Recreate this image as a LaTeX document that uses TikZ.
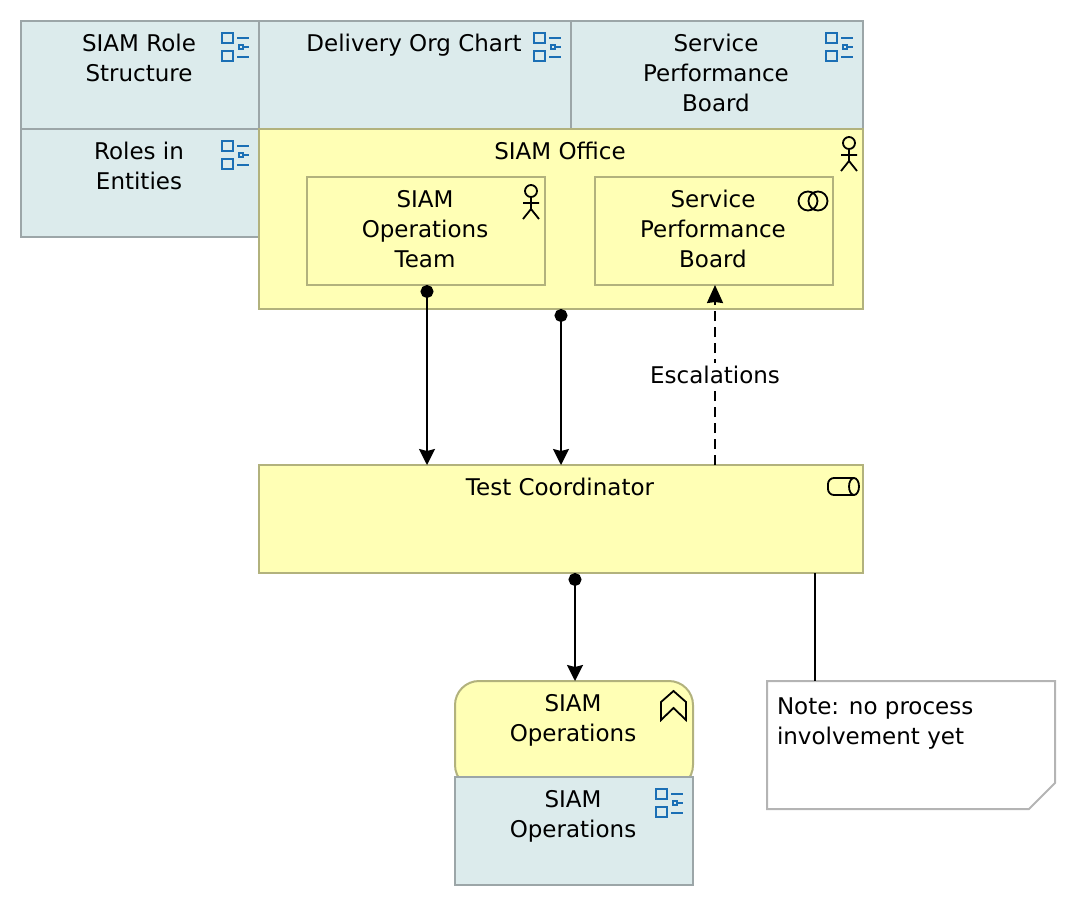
\documentclass[tikz,border=0pt]{standalone}
\usepackage{fontspec}
\setmainfont{DejaVu Sans}
\usetikzlibrary{arrows.meta}

\definecolor{datafill}{HTML}{DCEBEC}
\definecolor{dataline}{HTML}{9CA6A8}
\definecolor{mainfill}{HTML}{FFFFB5}
\definecolor{mainline}{HTML}{B2B27D}
\definecolor{noteline}{HTML}{B4B4B4}
\definecolor{iconblue}{HTML}{1B6FB5}

\tikzset{
    listicon/.pic = {
        \draw[iconblue, line width=2pt] (-37,12) rectangle (-26,22) (-37,30) rectangle (-26,40);
        \draw[iconblue, line width=2pt] (-22,17) -- (-10,17) (-15,26) -- (-10,26) (-22,36) -- (-10,36);
        \draw[iconblue, line width=1.5pt] (-20,24) rectangle (-16,28);
    },
    actoricon/.pic = {
        \draw[line width=1.8pt] (-14,14) circle (6pt);
        \draw[line width=1.8pt] (-14,20) -- (-14,32) (-22,26) -- (-6,26) (-22,42) -- (-14,32) -- (-6,42);
    },
    collabicon/.pic = {
        \draw[line width=1.8pt] (-25,24) circle (9.5pt) (-15,24) circle (9.5pt);
    },
    serviceicon/.pic = {
        \draw[line width=1.8pt, rounded corners=6pt] (-9,13) -- (-35,13) -- (-35,30) -- (-9,30);
        \draw[line width=1.8pt] (-9,21.5) ellipse (5pt and 8.5pt);
    },
    chevronicon/.pic = {
        \draw[line width=1.8pt] (-32,21) -- (-19.5,10) -- (-7,21) -- (-7,39) -- (-19.5,27) -- (-32,39) -- cycle;
    }
}

\begin{document}
\begin{tikzpicture}[x=1pt, y=-1pt, line width=2pt,
    font=\fontsize{23}{30}\selectfont,
    main/.style = {draw=mainline, fill=mainfill, rectangle, inner sep=0pt, outer sep=0pt},
    data/.style = {draw=dataline, fill=datafill, rectangle, inner sep=0pt, outer sep=0pt},
    boxtext/.style = {anchor=north, xshift=-1pt, yshift=-8.5pt, inner sep=0pt},
    serving/.style = {{Circle[length=13pt]}-{Stealth[length=16pt, width=16pt, inset=2pt]}},
    flow/.style = {dash pattern=on 10pt off 6pt, -{Stealth[length=18pt, width=16pt, inset=1pt]}}]
    \useasboundingbox (0,0) rectangle (1076,906);

    \node[data, minimum width=238pt, minimum height=108pt] (1) at (140,75) {};
    \node[data, minimum width=312pt, minimum height=108pt] (2) [right of=1, node distance=275pt] {};
    \node[data, minimum width=292pt, minimum height=108pt] (3) [right of=2, node distance=302pt] {};
    \node[data, minimum width=238pt, minimum height=108pt] (4) [below of=1, node distance=108pt] {};
    \node[main, minimum width=604pt, minimum height=180pt] (5) at (561,219) {};
    \node[main, minimum width=238pt, minimum height=108pt] (6) at (426,231) {};
    \node[main, minimum width=238pt, minimum height=108pt] (7) [right of=6, node distance=288pt] {};
    \node[main, minimum width=604pt, minimum height=108pt] (8) at (561,519) {};
    \node[main, rounded corners=24pt, minimum width=238pt, minimum height=108pt] (9) at (574,735) {};
    \node[data, minimum width=238pt, minimum height=108pt] (10) at (574,831) {};
    \node[inner sep=0pt, outer sep=0pt, minimum width=288pt, minimum height=128pt] (11) at (911,745) {};

    \node[boxtext] (t1) at (1.north) {\begin{tabular}{@{}c@{}} SIAM Role \\ Structure \end{tabular}};
    \node[boxtext] (t2) at (2.north) {\begin{tabular}{@{}c@{}} Delivery Org Chart \end{tabular}};
    \node[boxtext] (t3) at (3.north) {\begin{tabular}{@{}c@{}} Service \\ Performance \\ Board \end{tabular}};
    \node[boxtext] (t4) at (4.north) {\begin{tabular}{@{}c@{}} Roles in \\ Entities \end{tabular}};
    \node[boxtext] (t5) at (5.north) {\begin{tabular}{@{}c@{}} SIAM Office \end{tabular}};
    \node[boxtext] (t6) at (6.north) {\begin{tabular}{@{}c@{}} SIAM \\ Operations \\ Team \end{tabular}};
    \node[boxtext] (t7) at (7.north) {\begin{tabular}{@{}c@{}} Service \\ Performance \\ Board \end{tabular}};
    \node[boxtext] (t8) at (8.north) {\begin{tabular}{@{}c@{}} Test Coordinator \end{tabular}};
    \node[boxtext] (t9) at (9.north) {\begin{tabular}{@{}c@{}} SIAM \\ Operations \end{tabular}};
    \node[boxtext] (t10) at (10.north) {\begin{tabular}{@{}c@{}} SIAM \\ Operations \end{tabular}};
    \node[inner sep=0pt, anchor=north west] (t11) at (776,692) {\begin{tabular}{@{}l@{}} Note: no process \\ involvement yet \end{tabular}};

    \pic at (1.north east) {listicon};
    \pic at (2.north east) {listicon};
    \pic at (3.north east) {listicon};
    \pic at (4.north east) {listicon};
    \pic at (5.north east) {actoricon};
    \pic at (6.north east) {actoricon};
    \pic at (7.north east) {collabicon};
    \pic at (8.north east) {serviceicon};
    \pic at (9.north east) {chevronicon};
    \pic at (10.north east) {listicon};

    % note outline with the cut corner
    \draw[noteline] (11.north west) -- (11.north east) -- ([yshift=26pt]11.south east) -- ([xshift=-26pt]11.south east) -- (11.south west) -- cycle;

    \coordinate (a) at (815,681);
    \draw[serving] ([xshift=1pt]6.south) -- ([xshift=1pt]6.south |- 8.north);
    \draw[serving] (5.south) -- (8.north);
    \draw[serving] ([xshift=1pt]8.south -| 9.north) -- ([xshift=1pt]9.north);
    \draw[flow] ([xshift=1pt]8.north -| 7.south) -- node[fill=white, inner sep=3pt] (e) {Escalations} ([xshift=1pt]7.south);
    \draw (8.south -| a) -- (a);
\end{tikzpicture}
\end{document}
